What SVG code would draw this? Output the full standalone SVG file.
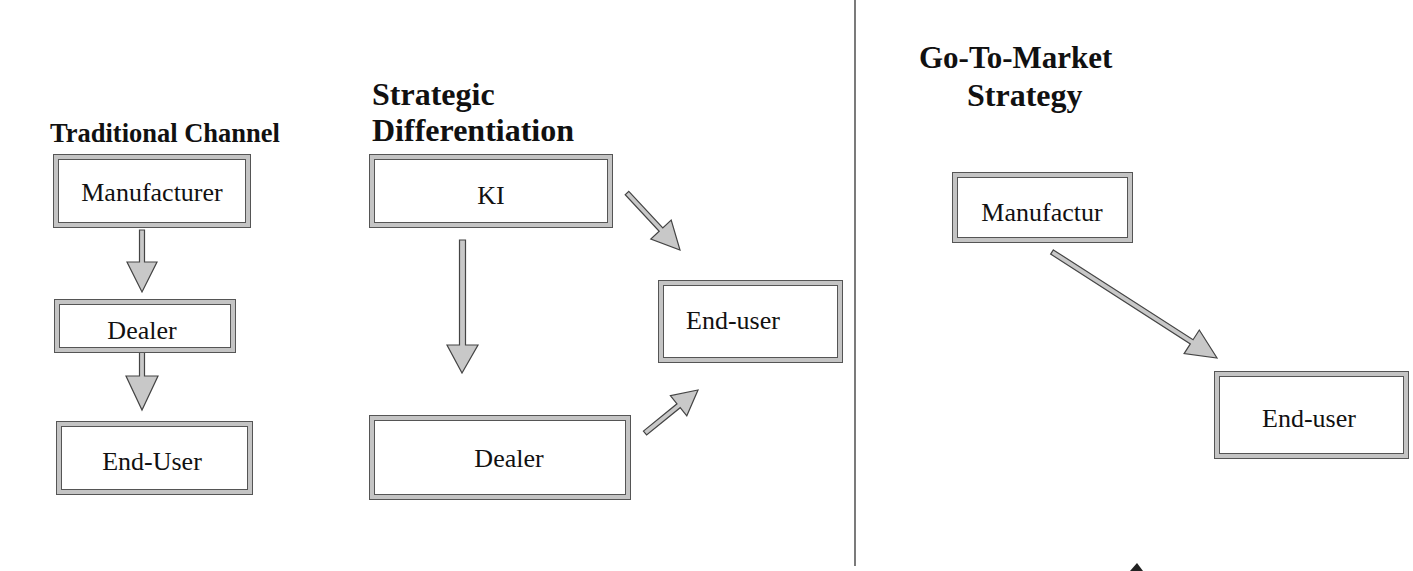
<svg xmlns="http://www.w3.org/2000/svg" width="1413" height="571" viewBox="0 0 1413 571">
<style>
.title{font-family:"Liberation Serif","Times New Roman",serif;font-weight:bold;font-size:32px;fill:#111}
.lbl{font-family:"Liberation Serif","Times New Roman",serif;font-size:26px;fill:#111;text-anchor:middle}
.bo{fill:#fff;stroke:#555;stroke-width:6}
.bi{fill:none;stroke:#c4c4c4;stroke-width:4}
.arr{fill:#c8c8c8;stroke:#444;stroke-width:1.2;stroke-linejoin:miter}
.sep{stroke:#222;stroke-width:1.2}
</style>
<rect width="1413" height="571" fill="#fff"/>
<g id="titles">
<text class="title" x="50" y="142" style="font-size:26.5px">Traditional Channel</text>
<text class="title" x="372" y="105">Strategic</text>
<text class="title" x="372" y="141">Differentiation</text>
<text class="title" x="919" y="68" style="font-size:31px">Go-To-Market</text>
<text class="title" x="967" y="106">Strategy</text>
</g>
<g id="separator"><line class="sep" x1="855" y1="0" x2="855" y2="566"/></g>
<g id="connectors">
<path class="arr" d="M139.5,230 L144.5,230 L144.5,262 L157,262 L142,292 L127,262 L139.5,262 Z"/>
<path class="arr" d="M139.5,350 L144.5,350 L144.5,376 L158,376 L142,410 L126,376 L139.5,376 Z"/>
<path class="arr" d="M459.5,240 L465.5,240 L465.5,345 L478,345 L462,373 L447,345 L459.5,345 Z"/>
<path class="arr" d="M628.8,191.3 L662.8,227.9 L671.2,220.1 L680,250 L650.8,239.1 L659.2,231.3 L625.2,194.7 Z"/>
<path class="arr" d="M643.4,431.1 L677,403.8 L670.4,395.7 L698,390 L686.8,415.8 L680.2,407.7 L646.6,434.9 Z"/>
<path class="arr" d="M1053.35,249.9 L1193.05,339.7 L1199.3,330 L1217,358 L1184.1,353.6 L1190.35,343.9 L1050.65,254.1 Z"/>
<path d="M1130,571 L1137,563 L1143,571 Z" fill="#222"/>
</g>
<g id="n-manufacturer"><rect class="bo" x="56" y="157" width="192" height="68"/><rect class="bi" x="56" y="157" width="192" height="68"/><text class="lbl" x="152" y="201">Manufacturer</text></g>
<g id="n-dealer1"><rect class="bo" x="57" y="302" width="176" height="48"/><rect class="bi" x="57" y="302" width="176" height="48"/><text class="lbl" x="142" y="339">Dealer</text></g>
<g id="n-enduser1"><rect class="bo" x="59" y="424" width="191" height="68"/><rect class="bi" x="59" y="424" width="191" height="68"/><text class="lbl" x="152" y="470">End-User</text></g>
<g id="n-ki"><rect class="bo" x="372" y="157" width="238" height="68"/><rect class="bi" x="372" y="157" width="238" height="68"/><text class="lbl" x="491" y="204">KI</text></g>
<g id="n-dealer2"><rect class="bo" x="372" y="418" width="256" height="79"/><rect class="bi" x="372" y="418" width="256" height="79"/><text class="lbl" x="509" y="467">Dealer</text></g>
<g id="n-enduser2"><rect class="bo" x="661" y="283" width="179" height="77"/><rect class="bi" x="661" y="283" width="179" height="77"/><text class="lbl" x="686" y="329" style="text-anchor:start">End-user</text></g>
<g id="n-manufactur"><rect class="bo" x="955" y="175" width="175" height="65"/><rect class="bi" x="955" y="175" width="175" height="65"/><text class="lbl" x="1042" y="221">Manufactur</text></g>
<g id="n-enduser3"><rect class="bo" x="1217" y="374" width="189" height="82"/><rect class="bi" x="1217" y="374" width="189" height="82"/><text class="lbl" x="1309" y="427">End-user</text></g>
</svg>
